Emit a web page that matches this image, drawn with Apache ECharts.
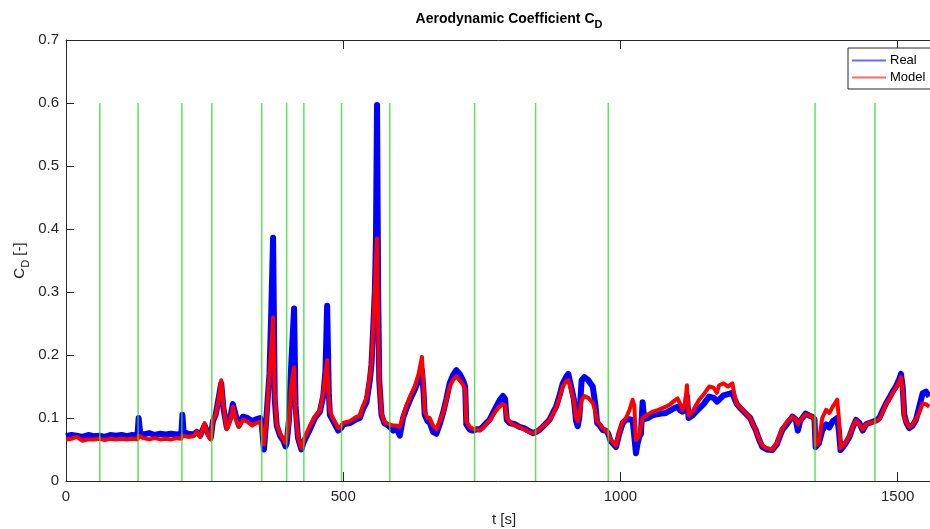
<!DOCTYPE html>
<html>
<head>
<meta charset="utf-8">
<script src="https://cdn.jsdelivr.net/npm/echarts@6/dist/echarts.min.js"></script>
<style>
html,body{margin:0;padding:0;background:#fff;}
#c{width:930px;height:529px;}
</style>
</head>
<body>
<div id="c"></div>
<script>
// time stamps [s]
var timeS = [0,10,19,30,40,50,60,70,80,90,100,110,120,129,131,134,140,150,160,170,180,190,200,208,210,212,220,230,236,242,250,256,261,265,270,275,280,284,290,296,301,306,312,319,327,336,343,350,353,357,361,367,370,373.5,376.5,380,386,392,396,398,402,406,411.4,414,418.5,424.6,428,431,440,449,458,464,468,471,474,476,485,491,497,500,512,524,530,536,542,548,551,554,557,559,561,563,565,569,574,578,584,590,596,602,608,614,621,629,636,642,645,647,652,656,662,668,674,680,686,692,698,704,710,716,720,722,728,734,740,746,752,758,764,770,776,782,788,792,795,800,810,818,826,834,842,848,854,862,872,878,884,890,896,902,906,911,916,920,923,926,930,935,942,950,955,958,963,968,974,978,982,986,992,998,1004,1010,1016,1022,1025,1028,1031,1034,1037,1040,1043,1050,1058,1066,1074,1082,1090,1098,1103,1108,1112,1117,1120,1123,1130,1136,1142,1150,1160,1168,1174,1178,1186,1194,1202,1206,1210,1218,1226,1234,1240,1244,1250,1256,1264,1274,1282,1292,1300,1310,1316,1320,1324,1334,1340,1346,1350,1352,1358,1364,1371,1377,1383,1391,1394,1397,1405,1413,1419,1425,1431,1437,1443,1449,1455,1461,1467,1473,1479,1485,1491,1497,1503,1506,1509,1512,1516,1521,1527,1533,1539,1545,1551,1557];
// measured C_D (Real)
var realCD = [0.071,0.073,0.072,0.070,0.073,0.071,0.072,0.070,0.073,0.072,0.073,0.071,0.073,0.072,0.100,0.075,0.074,0.076,0.073,0.075,0.074,0.075,0.074,0.075,0.105,0.078,0.075,0.074,0.078,0.072,0.088,0.076,0.068,0.095,0.105,0.130,0.155,0.115,0.085,0.100,0.122,0.105,0.088,0.102,0.100,0.095,0.098,0.100,0.090,0.050,0.095,0.170,0.260,0.386,0.130,0.088,0.072,0.064,0.055,0.060,0.095,0.180,0.274,0.120,0.068,0.050,0.060,0.066,0.082,0.100,0.110,0.135,0.175,0.278,0.140,0.105,0.090,0.080,0.085,0.090,0.092,0.098,0.100,0.115,0.125,0.160,0.185,0.240,0.300,0.380,0.597,0.300,0.160,0.105,0.092,0.090,0.086,0.080,0.084,0.072,0.100,0.115,0.130,0.145,0.160,0.176,0.140,0.105,0.095,0.093,0.078,0.075,0.090,0.108,0.130,0.155,0.168,0.176,0.170,0.160,0.150,0.090,0.082,0.080,0.082,0.082,0.086,0.092,0.097,0.108,0.118,0.128,0.135,0.130,0.097,0.092,0.090,0.086,0.084,0.080,0.076,0.078,0.081,0.088,0.097,0.108,0.118,0.135,0.155,0.165,0.170,0.150,0.130,0.095,0.087,0.102,0.160,0.165,0.160,0.150,0.120,0.092,0.088,0.081,0.080,0.075,0.064,0.060,0.054,0.075,0.092,0.097,0.098,0.097,0.100,0.044,0.060,0.070,0.075,0.125,0.098,0.100,0.104,0.106,0.107,0.108,0.112,0.116,0.118,0.112,0.110,0.115,0.135,0.100,0.104,0.110,0.115,0.122,0.134,0.132,0.126,0.129,0.136,0.138,0.140,0.130,0.122,0.114,0.107,0.100,0.088,0.081,0.066,0.054,0.050,0.049,0.058,0.081,0.090,0.102,0.098,0.080,0.095,0.107,0.104,0.102,0.098,0.054,0.060,0.080,0.090,0.085,0.095,0.100,0.080,0.049,0.058,0.070,0.085,0.097,0.092,0.080,0.090,0.092,0.094,0.096,0.100,0.112,0.123,0.132,0.142,0.150,0.162,0.170,0.150,0.105,0.092,0.084,0.088,0.097,0.118,0.139,0.142,0.134];
// model C_D
var modelCD = [0.066,0.067,0.070,0.064,0.066,0.066,0.067,0.065,0.067,0.066,0.067,0.066,0.067,0.066,0.072,0.074,0.068,0.066,0.068,0.066,0.067,0.066,0.068,0.067,0.072,0.072,0.070,0.071,0.078,0.070,0.092,0.072,0.066,0.097,0.105,0.128,0.160,0.118,0.082,0.095,0.118,0.098,0.086,0.097,0.094,0.088,0.092,0.094,0.085,0.058,0.090,0.170,0.210,0.260,0.140,0.090,0.075,0.066,0.060,0.062,0.090,0.150,0.180,0.110,0.070,0.052,0.062,0.070,0.088,0.102,0.112,0.140,0.170,0.192,0.135,0.110,0.094,0.084,0.088,0.092,0.095,0.102,0.103,0.120,0.132,0.165,0.190,0.240,0.300,0.350,0.385,0.250,0.160,0.108,0.094,0.092,0.090,0.088,0.088,0.086,0.102,0.120,0.135,0.150,0.170,0.197,0.150,0.110,0.100,0.100,0.088,0.082,0.095,0.108,0.128,0.150,0.160,0.166,0.160,0.153,0.145,0.095,0.086,0.083,0.082,0.080,0.084,0.090,0.096,0.104,0.112,0.118,0.122,0.120,0.100,0.094,0.088,0.086,0.082,0.078,0.076,0.078,0.082,0.088,0.096,0.106,0.116,0.132,0.150,0.158,0.160,0.145,0.128,0.100,0.095,0.105,0.128,0.135,0.132,0.124,0.110,0.095,0.090,0.084,0.080,0.076,0.066,0.062,0.056,0.078,0.094,0.100,0.112,0.129,0.120,0.065,0.068,0.072,0.075,0.100,0.098,0.106,0.110,0.112,0.115,0.118,0.122,0.128,0.131,0.122,0.113,0.125,0.152,0.104,0.110,0.120,0.129,0.137,0.150,0.148,0.140,0.152,0.155,0.150,0.155,0.135,0.122,0.115,0.108,0.100,0.088,0.081,0.066,0.056,0.052,0.050,0.060,0.083,0.094,0.102,0.098,0.090,0.096,0.106,0.104,0.102,0.098,0.056,0.062,0.100,0.113,0.108,0.118,0.129,0.100,0.052,0.060,0.072,0.086,0.096,0.090,0.082,0.090,0.092,0.093,0.096,0.098,0.110,0.122,0.130,0.140,0.148,0.158,0.165,0.145,0.102,0.092,0.086,0.090,0.098,0.108,0.123,0.122,0.118];
// manoeuvre markers (green vertical lines)
var markerT = [61,130,209,263,353,398,429,497,584,737,847,978,1351,1459];
var markerTop = 0.6;
var yTicks = [0,0.1,0.2,0.3,0.4,0.5,0.6,0.7];
var xTicks = [0,500,1000,1500];

function pairs(t, v){ var out=[]; for(var i=0;i<t.length;i++){ out.push([t[i], v[i]]); } return out; }
var greenData = [];
markerT.forEach(function(t){ greenData.push([t,0]); greenData.push([t,markerTop]); greenData.push([t,'-']); });

var axisCol = '#262626';
var fontFam = '"Liberation Sans", Arial, Helvetica, sans-serif';
var chart = echarts.init(document.getElementById('c'), null, {renderer:'canvas'});
chart.setOption({
  animation:false,
  backgroundColor:'#ffffff',
  title:{
    text:'{a|Aerodynamic Coefficient C}{sub|D}',
    left:504, top:7, textAlign:'center',
    textStyle:{
      rich:{
        a:{fontSize:14, fontWeight:'bold', color:'#000', fontFamily:fontFam, lineHeight:14, verticalAlign:'top'},
        sub:{fontSize:11, fontWeight:'bold', color:'#000', fontFamily:fontFam, lineHeight:18, verticalAlign:'bottom'}
      }
    }
  },
  legend:{
    orient:'vertical',
    left:848, top:48,
    padding:[6,8,5,4],
    itemGap:4,
    itemWidth:34, itemHeight:2,
    borderColor:axisCol, borderWidth:1, borderRadius:0,
    backgroundColor:'#fff',
    textStyle:{fontSize:13, color:'#000', fontFamily:fontFam, padding:[0,0,0,-1]},
    data:[
      {name:'Real', icon:'rect', itemStyle:{color:'#6868ff'}},
      {name:'Model', icon:'rect', itemStyle:{color:'#ff6868'}}
    ]
  },
  grid:{left:66, top:40, width:876, height:441, containLabel:false, outerBoundsMode:'none'},
  xAxis:[{
    type:'value', min:0, max:1580, interval:500,
    name:'t [s]', nameLocation:'middle', nameGap:31, nameMoveOverlap:false,
    nameTextStyle:{fontSize:15, color:axisCol, fontFamily:fontFam},
    axisLine:{show:true, onZero:false, lineStyle:{color:axisCol, width:1}},
    axisTick:{show:true, inside:true, length:9, lineStyle:{color:axisCol}},
    axisLabel:{fontSize:15, color:axisCol, fontFamily:fontFam, margin:8, showMaxLabel:false,
      formatter:function(v){ return xTicks.indexOf(v)>=0 ? String(v) : ''; }},
    splitLine:{show:false}
  },{
    type:'value', position:'top', min:0, max:1580, interval:500,
    axisLine:{show:true, onZero:false, lineStyle:{color:axisCol, width:1}},
    axisTick:{show:true, inside:true, length:9, lineStyle:{color:axisCol}},
    axisLabel:{show:false}, splitLine:{show:false}
  }],
  yAxis:{
    type:'value', min:0, max:0.7, interval:0.1,
    name:'{a|C}{sub|D}{a| [-]}', nameLocation:'middle', nameGap:35, nameRotate:90, nameMoveOverlap:false,
    nameTextStyle:{
      rich:{
        a:{fontSize:15, color:axisCol, fontFamily:fontFam, lineHeight:15, verticalAlign:'top'},
        sub:{fontSize:11, color:axisCol, fontFamily:fontFam, lineHeight:19, verticalAlign:'bottom'}
      }
    },
    axisLine:{show:true, onZero:false, lineStyle:{color:axisCol, width:1}},
    axisTick:{show:true, inside:true, length:8, lineStyle:{color:axisCol}},
    axisLabel:{fontSize:15, color:axisCol, fontFamily:fontFam, margin:7,
      formatter:function(v){ return String(+v.toFixed(1)); }},
    splitLine:{show:false}
  },
  series:[
    {name:'Real', type:'line', data:pairs(timeS, realCD), showSymbol:false, symbol:'none',
      lineStyle:{color:'#0000ff', width:6, join:'round'}, itemStyle:{color:'#0000ff'}, z:2},
    {name:'Model', type:'line', data:pairs(timeS, modelCD), showSymbol:false, symbol:'none',
      lineStyle:{color:'#ff0000', width:4, join:'round'}, itemStyle:{color:'#ff0000'}, z:3},
    {name:'markers', type:'line', data:greenData, showSymbol:false, symbol:'none', connectNulls:false,
      lineStyle:{color:'#33dd33', width:1.5, opacity:0.8}, z:4, silent:true}
  ]
});
</script>
</body>
</html>
